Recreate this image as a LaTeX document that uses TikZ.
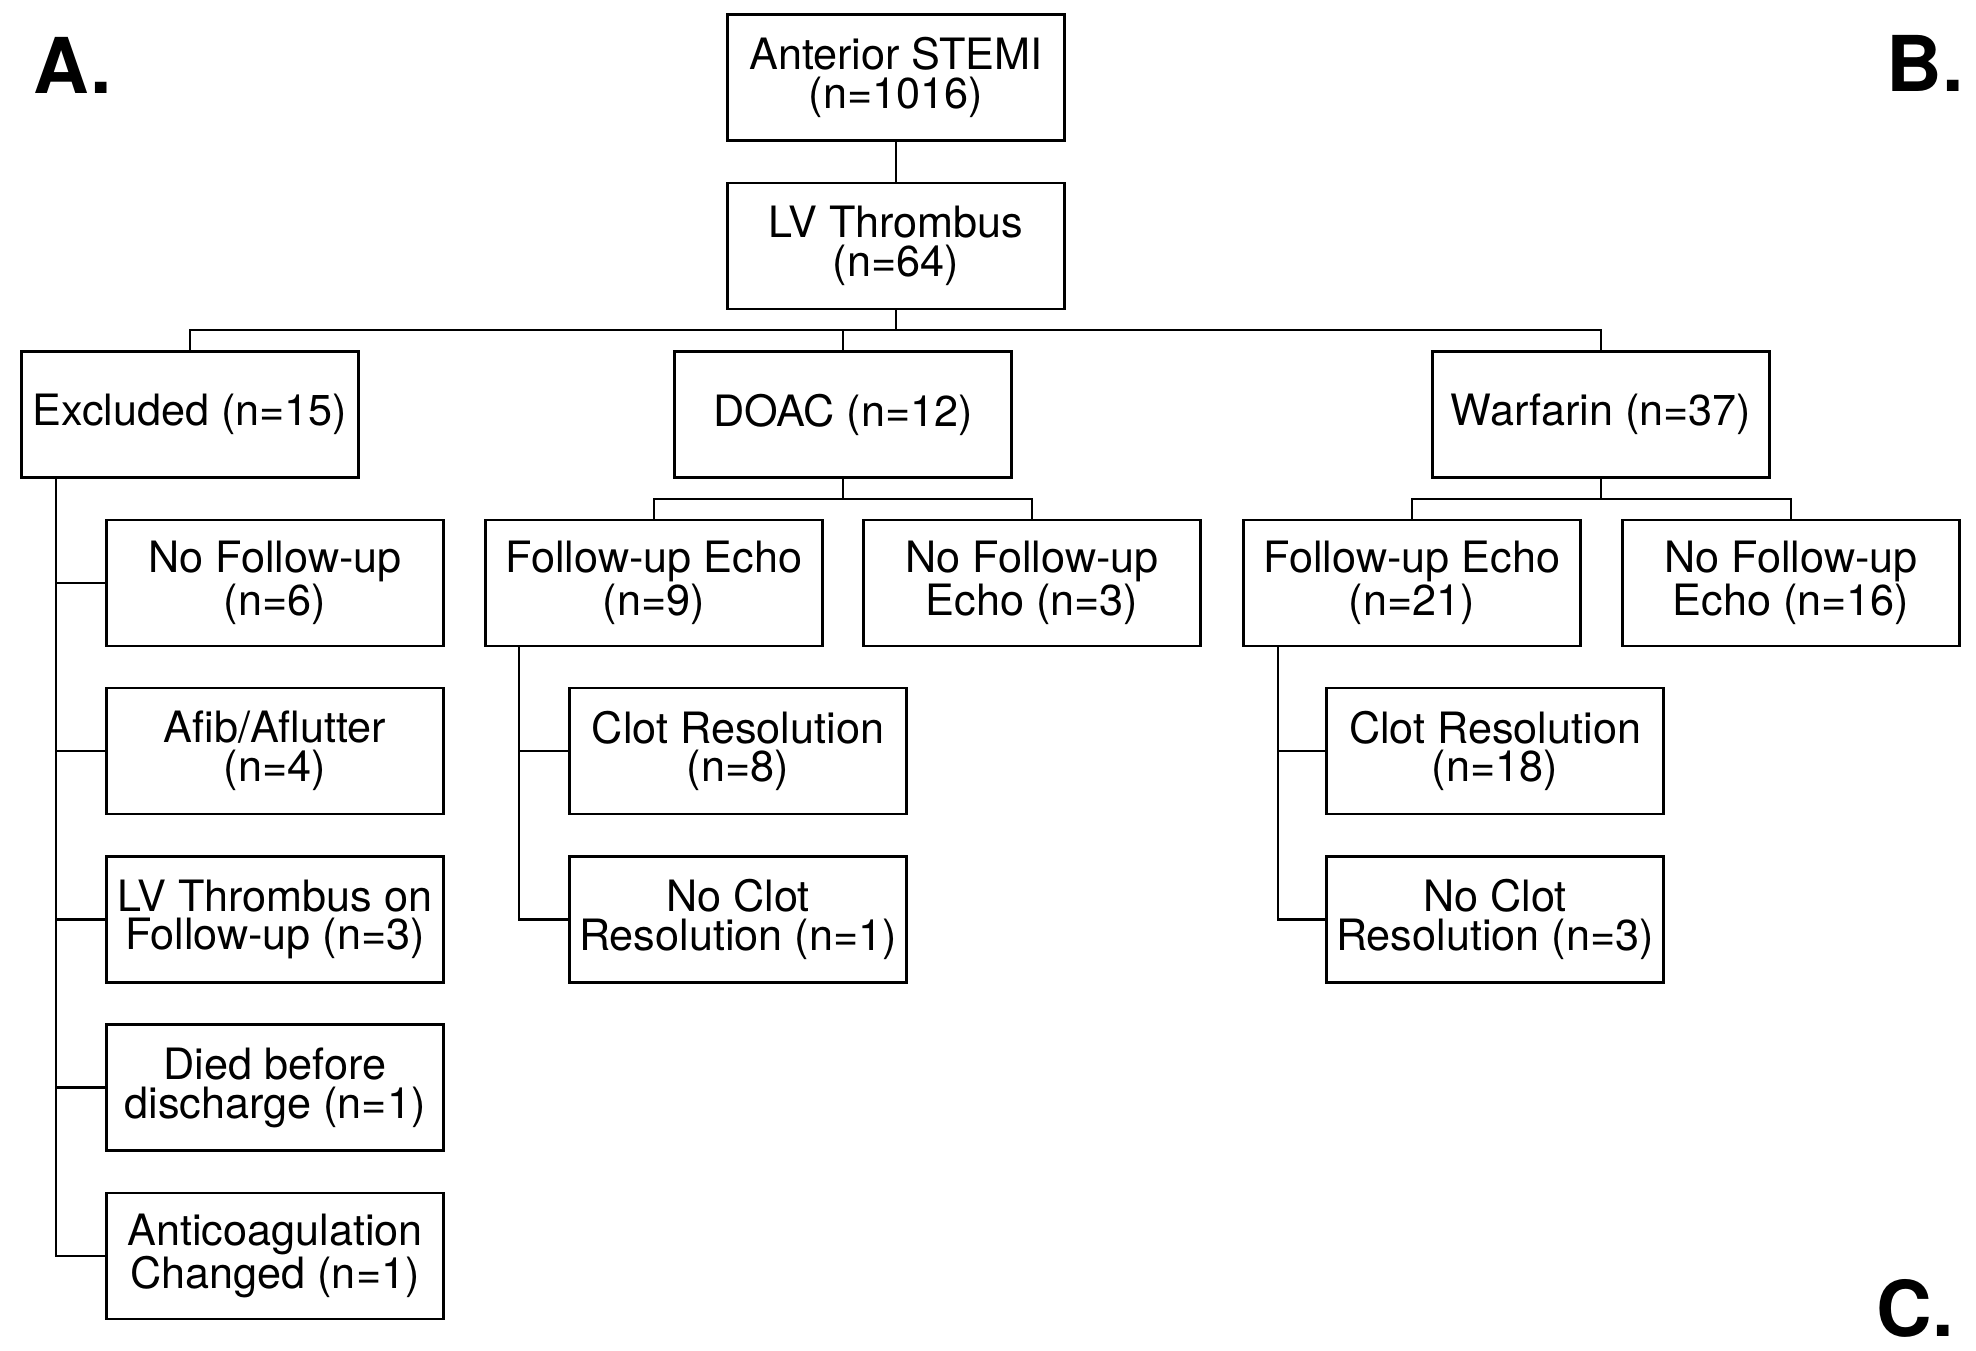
\documentclass[tikz,border=0pt]{standalone}
\usepackage{fontspec}
\setmainfont{TeX Gyre Heros}
\begin{document}
\begin{tikzpicture}[x=0.5pt,y=-0.5pt,
  box/.style={draw, line width=1.3pt, minimum width=168.5pt, minimum height=63pt,
    inner sep=0pt, align=center, font=\fontsize{21.6}{19.4}\selectfont},
  conn/.style={line width=1.3pt},
  panel/.style={inner sep=0pt, anchor=base west, font=\fontsize{38.5}{40}\bfseries\selectfont}]
\useasboundingbox (0,0) rectangle (1976,1350);

% panel letters
\node[panel] (pa) at (33,93) {A.};
\node[panel] (pb) at (1886,91) {B.};
\node[panel] (pc) at (1876,1336) {C.};

% top
\node[box] (stemi) at (896,77.5) {Anterior STEMI\\(n=1016)};
\node[box] (lv) at (896,246) {LV Thrombus\\(n=64)};

% row 2
\node[box] (excl) at (190,414.5) {Excluded (n=15)};
\node[box] (doac) at (843,414.5) {DOAC (n=12)};
\node[box] (warf) at (1601,414.5) {Warfarin (n=37)};

% excluded children
\node[box] (e1) at (275,583) {No Follow-up\\(n=6)};
\node[box] (e2) at (275,751) {Afib/Aflutter\\(n=4)};
\node[box] (e3) at (275,919.5) {LV Thrombus on\\Follow-up (n=3)};
\node[box] (e4) at (275,1087.5) {Died before\\discharge (n=1)};
\node[box] (e5) at (275,1256) {Anticoagulation\\Changed (n=1)};

% DOAC children
\node[box] (dfu) at (654,583) {Follow-up Echo\\(n=9)};
\node[box] (dnfu) at (1032,583) {No Follow-up\\Echo (n=3)};
\node[box] (dcr) at (738,751) {Clot Resolution\\(n=8)};
\node[box] (dncr) at (738,919.5) {No Clot\\Resolution (n=1)};

% Warfarin children
\node[box] (wfu) at (1412,583) {Follow-up Echo\\(n=21)};
\node[box] (wnfu) at (1791,583) {No Follow-up\\Echo (n=16)};
\node[box] (wcr) at (1495,751) {Clot Resolution\\(n=18)};
\node[box] (wncr) at (1495,919.5) {No Clot\\Resolution (n=3)};

% helper coordinates
\coordinate (h1) at (0,330);
\coordinate (h2) at (0,499);
\coordinate (es) at (56,0);
\coordinate (ds) at (519,0);
\coordinate (ws) at (1278,0);

% connectors
\draw[conn] (stemi) -- (lv);
\draw[conn] (lv.south) -- (lv.south |- h1);
\draw[conn] (excl.north) |- (warf.north |- h1) -- (warf.north);
\draw[conn] (doac.north) -- (doac.north |- h1);

\draw[conn] (doac.south) -- (doac.south |- h2);
\draw[conn] (dfu.north) |- (dnfu.north |- h2) -- (dnfu.north);
\draw[conn] (warf.south) -- (warf.south |- h2);
\draw[conn] (wfu.north) |- (wnfu.north |- h2) -- (wnfu.north);

\draw[conn] (excl.south -| es) |- (e5.west);
\foreach \n in {e1,e2,e3,e4} \draw[conn] (\n.west) -- (\n.west -| es);

\draw[conn] (dfu.south -| ds) |- (dncr.west);
\draw[conn] (dcr.west) -- (dcr.west -| ds);

\draw[conn] (wfu.south -| ws) |- (wncr.west);
\draw[conn] (wcr.west) -- (wcr.west -| ws);
\end{tikzpicture}
\end{document}
